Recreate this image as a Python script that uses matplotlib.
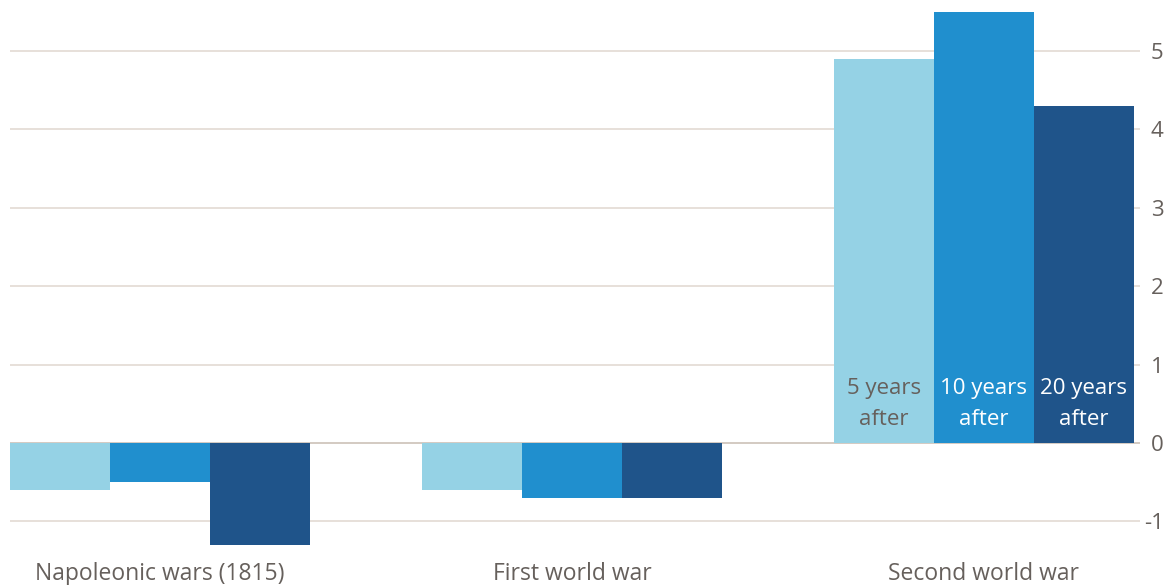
import numpy as np
import matplotlib.pyplot as plt

wars = ['Napoleonic wars (1815)', 'First world war', 'Second world war']
series = ['5 years\nafter', '10 years\nafter', '20 years\nafter']
five_yrs = [-0.6, -0.6, 4.9]
ten_yrs = [-0.5, -0.7, 5.5]
twenty_yrs = [-1.3, -0.7, 4.3]
yticks = [-1, 0, 1, 2, 3, 4, 5]

colors = ['#95d2e5', '#208fce', '#1f548a']
text_colors = ['#66605c', 'white', 'white']
grey = '#66605c'

plt.rcParams['font.family'] = ['Open Sans', 'DejaVu Sans']

fig = plt.figure(figsize=(11.67, 5.85), dpi=100)
ax = fig.add_axes([10/1167, 35/585, 1130/1167, 550/585])

x = np.arange(len(wars))
w = 100/412
for i, vals in enumerate([five_yrs, ten_yrs, twenty_yrs]):
    ax.bar(x + (i - 1)*w, vals, w, color=colors[i], zorder=3)
    # labels inside the second world war bars
    ax.text(x[2] + (i - 1)*w, 0.5, series[i], ha='center', va='center',
            color=text_colors[i], fontsize=16, linespacing=1.6, zorder=4)

ax.set_xlim(-150/412, (1140-160)/412)
ax.set_ylim(-(550-443)/78.4, 443/78.4)

for t in yticks:
    ax.axhline(t, color='#ccc1b7' if t == 0 else '#e3dad3', lw=1.2, zorder=1)

ax.yaxis.tick_right()
ax.set_yticks(yticks)
ax.set_yticklabels([str(t) for t in yticks], color=grey, fontsize=16, ha='right')
ax.tick_params(axis='y', length=0, pad=17)
ax.set_xticks([])
for s in ax.spines.values():
    s.set_visible(False)

for xi, name in zip(x, wars):
    ax.text(xi, -1.67, name, ha='center', va='center', color=grey,
            fontsize=16.5, clip_on=False)

fig.savefig('out.png', dpi=100, facecolor='white')
